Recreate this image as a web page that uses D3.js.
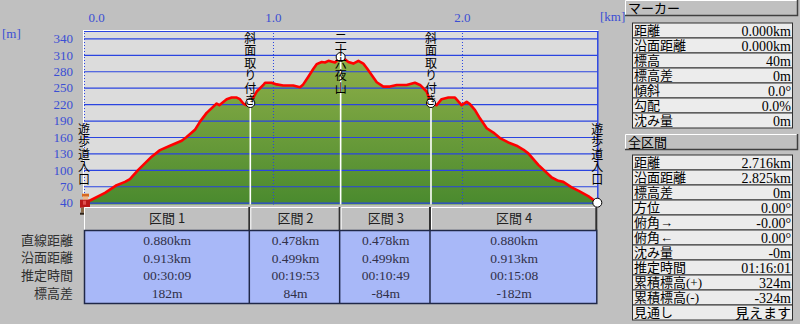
<!DOCTYPE html>
<html><head><meta charset="utf-8">
<script src="https://cdn.jsdelivr.net/npm/d3@7/dist/d3.min.js"></script>
<style>
html,body{margin:0;padding:0;background:#c0c0c0;}
svg{display:block;}
</style></head>
<body>
<svg id="chart" width="800" height="324"></svg>
<script>
// ---------- data ----------
const yTicks = [40, 70, 100, 130, 160, 190, 220, 250, 280, 310, 340];
const xTicks = [0, 1, 2];
const totalKm = 2.716;
const profileKm = [0, 0.032, 0.111, 0.173, 0.217, 0.243, 0.287, 0.358, 0.402, 0.455, 0.517, 0.543, 0.587, 0.614, 0.649, 0.702, 0.716, 0.737, 0.755, 0.781, 0.808, 0.825, 0.843, 0.861, 0.880,
  0.914, 0.949, 0.958, 0.993, 1.019, 1.054, 1.107, 1.143, 1.160, 1.187, 1.213, 1.231, 1.258, 1.275, 1.293, 1.328, 1.358,
  1.372, 1.399, 1.425, 1.452, 1.478, 1.496, 1.522, 1.549, 1.584, 1.619, 1.655, 1.707, 1.751, 1.778, 1.813, 1.836,
  1.866, 1.892, 1.928, 1.963, 1.998, 2.025, 2.042, 2.069, 2.095, 2.131, 2.166, 2.201, 2.245, 2.289, 2.324, 2.351, 2.404, 2.475, 2.510, 2.536, 2.580, 2.615, 2.668, 2.716];
const profileElev = [40, 44, 58, 72, 78, 83, 100, 124, 136, 144, 153, 160, 173, 188, 204, 221, 218, 224, 229, 232, 232, 229, 221, 218, 222,
  243, 255, 259, 259, 256, 254, 254, 251, 256, 270, 284, 293, 297, 296, 299, 296, 306,
  304, 297, 294, 299, 294, 286, 273, 260, 252, 252, 255, 255, 259, 255, 243, 222,
  218, 229, 232, 232, 218, 224, 220, 209, 194, 176, 168, 158, 150, 144, 137, 130, 109, 86, 80, 78, 68, 62, 52, 40];

const markerKm = [0, 0.880, 1.358, 1.836, 2.716];
const markerElev = [40, 222, 306, 222, 40];
const markerNames = ["遊歩道入口", "斜面取り付き", "二十六夜山", "斜面取り付き", "遊歩道入口"];

const sectionNames = ["区間 1", "区間 2", "区間 3", "区間 4"];
const sectionKm = [0.880, 0.478, 0.478, 0.880];
const rowLabels = ["直線距離", "沿面距離", "推定時間", "標高差"];
const straightDist = ["0.880km", "0.478km", "0.478km", "0.880km"];
const surfaceDist = ["0.913km", "0.499km", "0.499km", "0.913km"];
const estTime = ["00:30:09", "00:19:53", "00:10:49", "00:15:08"];
const elevDiff = ["182m", "84m", "-84m", "-182m"];

const markerPanelLabels = ["距離", "沿面距離", "標高", "標高差", "傾斜", "勾配", "沈み量"];
const markerPanelValues = ["0.000km", "0.000km", "40m", "0m", "0.0°", "0.0%", "0m"];
const totalPanelLabels = ["距離", "沿面距離", "標高差", "方位", "俯角→", "俯角←", "沈み量", "推定時間", "累積標高(+)", "累積標高(-)", "見通し"];
const totalPanelValues = ["2.716km", "2.825km", "0m", "0.00°", "-0.00°", "0.00°", "-0m", "01:16:01", "324m", "-324m", "見えます"];

// ---------- layout ----------
const svg = d3.select("#chart");
const FONT = "'Liberation Serif','Noto Sans CJK JP',serif";
const JFONT = "'Noto Sans CJK JP','Noto Sans',sans-serif";
const BLUE_TXT = "#3a4ed4";
const BLUE_LINE = "#2a44e0";
const L = 84, R = 597.3, T = 30, B = 204.5;

const x = d3.scaleLinear().domain([0, totalKm]).range([L, R]);
const y = d3.scaleLinear().domain([40, 340]).range([202.7, 38.4]);

svg.append("rect").attr("width", 800).attr("height", 324).attr("fill", "#c0c0c0");
svg.append("rect").attr("x", L).attr("y", T).attr("width", R - L + 1).attr("height", B - T).attr("fill", "#dcdcdc");

const defs = svg.append("defs");
const grad = defs.append("linearGradient").attr("id", "g").attr("gradientUnits", "userSpaceOnUse")
  .attr("x1", 0).attr("x2", 0).attr("y1", y(340)).attr("y2", B);
grad.append("stop").attr("offset", 0).attr("stop-color", "#98b44c");
grad.append("stop").attr("offset", 1).attr("stop-color", "#4a8a2e");

const prof = profileKm.map((k, i) => [k, profileElev[i]]);
svg.append("path").datum(prof)
  .attr("d", d3.area().x(d => x(d[0])).y0(B).y1(d => y(d[1])))
  .attr("fill", "url(#g)");

const ya = svg.append("g").attr("transform", `translate(${L},0)`)
  .call(d3.axisLeft(y).tickValues(yTicks).tickSize(-(R - L)).tickPadding(11).tickFormat(d3.format("d")));
ya.select(".domain").remove();
ya.selectAll("line").attr("stroke", BLUE_LINE).attr("stroke-width", 1.2);
ya.selectAll("text").attr("fill", BLUE_TXT).attr("font-family", FONT).attr("font-size", 13);

const xa = svg.append("g").attr("transform", `translate(0,${T})`)
  .call(d3.axisTop(x).tickValues(xTicks).tickSize(-(B - T)).tickPadding(8).tickFormat(d3.format(".1f")));
xa.select(".domain").remove();
xa.selectAll("line").attr("stroke", BLUE_LINE).attr("stroke-width", 1).attr("stroke-dasharray", "1,2");
xa.selectAll("text").attr("fill", BLUE_TXT).attr("font-family", FONT).attr("font-size", 13);
xa.selectAll(".tick").filter(d => d === 0).select("text").attr("text-anchor", "start").attr("x", 4);

svg.append("line").attr("x1", L - 1).attr("x2", R + 1).attr("y1", T + 0.5).attr("y2", T + 0.5).attr("stroke", "#fff");
svg.append("line").attr("x1", L - 0.5).attr("x2", L - 0.5).attr("y1", T).attr("y2", B).attr("stroke", "#fff");
svg.append("line").attr("x1", L).attr("x2", R + 1).attr("y1", T + 1.5).attr("y2", T + 1.5).attr("stroke", BLUE_LINE);
svg.append("line").attr("x1", R + 0.5).attr("x2", R + 0.5).attr("y1", T + 1).attr("y2", B).attr("stroke", BLUE_LINE).attr("stroke-width", 1.5);

svg.append("text").attr("x", 2).attr("y", 38).text("[m]").attr("fill", BLUE_TXT).attr("font-family", FONT).attr("font-size", 13);
svg.append("text").attr("x", 600).attr("y", 21).text("[km]").attr("fill", BLUE_TXT).attr("font-family", FONT).attr("font-size", 13);

const mk = markerKm.map((k, i) => ({ k, e: markerElev[i], name: markerNames[i], i }));
svg.selectAll(".secline").data(mk.filter(d => d.i > 0 && d.i < mk.length - 1)).join("line")
  .attr("x1", d => x(d.k)).attr("x2", d => x(d.k))
  .attr("y1", d => y(d.e)).attr("y2", B)
  .attr("stroke", "#fff").attr("stroke-width", 1.6);

svg.append("path").datum(prof)
  .attr("d", d3.line().x(d => x(d[0])).y(d => y(d[1])))
  .attr("fill", "none").attr("stroke", "#ff0000").attr("stroke-width", 2.6).attr("stroke-linejoin", "round");

svg.selectAll(".mc").data(mk.filter(d => d.i > 0)).join("circle")
  .attr("cx", d => x(d.k)).attr("cy", d => y(d.e)).attr("r", 4.5)
  .attr("fill", "#fff").attr("stroke", "#000").attr("stroke-width", 1);

// hiker icon at start
const h = svg.append("g").attr("transform", `translate(${x(0) + 1},${y(40)})`);
h.append("rect").attr("x", -3).attr("y", -9).attr("width", 7).attr("height", 3).attr("fill", "#d86820");
h.append("rect").attr("x", -2).attr("y", -6).attr("width", 5).attr("height", 3).attr("fill", "#f0b888");
h.append("rect").attr("x", -5).attr("y", -3).attr("width", 10).attr("height", 8).attr("fill", "#b81818");
h.append("rect").attr("x", -2).attr("y", -2).attr("width", 3).attr("height", 4).attr("fill", "#e05050");
h.append("rect").attr("x", -4).attr("y", 5).attr("width", 3).attr("height", 5).attr("fill", "#8a6a48");
h.append("rect").attr("x", 1).attr("y", 5).attr("width", 3).attr("height", 5).attr("fill", "#8a6a48");
h.append("rect").attr("x", -5).attr("y", 10).attr("width", 4).attr("height", 2).attr("fill", "#302418");
h.append("rect").attr("x", 1).attr("y", 10).attr("width", 4).attr("height", 2).attr("fill", "#302418");

// vertical labels
const STEP = 12.5;
svg.selectAll(".vlab").data(mk).join("text")
  .attr("class", "vlab")
  .attr("x", d => x(d.k))
  .attr("y", d => {
    const n = Array.from(d.name).length;
    const edge = d.i === 0 || d.i === mk.length - 1;
    return edge ? y(d.e) - 17 - n * STEP : 32;
  })
  .style("writing-mode", "vertical-rl")
  .attr("letter-spacing", 0.5)
  .attr("font-family", JFONT).attr("font-size", 12).attr("fill", "#000")
  .text(d => d.name);

// ---------- section table ----------
const bounds = [0];
sectionKm.forEach(v => bounds.push(+(bounds[bounds.length - 1] + v).toFixed(3)));
const secs = sectionNames.map((n, i) => ({ n, i, x0: x(bounds[i]), x1: x(bounds[i + 1]) }));
const HT = 207, HB = 230, DB = 303;

const hc = svg.selectAll(".hc").data(secs).join("g");
hc.append("rect").attr("x", d => d.x0).attr("y", HT).attr("width", d => d.x1 - d.x0).attr("height", HB - HT).attr("fill", "#c0c0c0");
hc.append("path").attr("d", d => `M${d.x0 + 0.5},${HB}V${HT + 0.5}H${d.x1 - 1}`).attr("stroke", "#fff").attr("fill", "none");
hc.append("path").attr("d", d => `M${d.x1 - 1},${HT}V${HB}`).attr("stroke", "#303030").attr("stroke-width", 2).attr("fill", "none");
hc.append("text").attr("x", d => (d.x0 + d.x1) / 2).attr("y", (HT + HB) / 2).attr("dy", "0.36em")
  .attr("text-anchor", "middle").attr("font-family", JFONT).attr("font-size", 13).attr("fill", "#202020").text(d => d.n);

svg.append("rect").attr("x", x(0) + 0.5).attr("y", HB + 0.5).attr("width", x(totalKm) - x(0) - 1).attr("height", DB - HB)
  .attr("fill", "#a8b8f8").attr("stroke", "#202848").attr("stroke-width", 1.5);
svg.selectAll(".vd").data(bounds.slice(1, -1)).join("line")
  .attr("x1", d => x(d) - 1).attr("x2", d => x(d) - 1).attr("y1", HB).attr("y2", DB)
  .attr("stroke", "#202848").attr("stroke-width", 1.5);

const rowsVals = [straightDist, surfaceDist, estTime, elevDiff];
const rowY = [240, 257.7, 275, 293.3];
rowsVals.forEach((vals, r) => {
  svg.append("g").selectAll("text").data(secs).join("text")
    .attr("x", d => (d.x0 + d.x1) / 2).attr("y", rowY[r]).attr("dy", "0.36em").attr("text-anchor", "middle")
    .attr("font-family", FONT).attr("font-size", 13.5).attr("fill", "#303048").text(d => vals[d.i]);
  svg.append("text").attr("x", 73).attr("y", rowY[r]).attr("dy", "0.36em").attr("text-anchor", "end")
    .attr("font-family", JFONT).attr("font-size", 13).attr("fill", "#303030").text(rowLabels[r]);
});

// ---------- right panels ----------
function header(yTop, label) {
  const g = svg.append("g");
  g.append("rect").attr("x", 625).attr("y", yTop).attr("width", 173).attr("height", 16).attr("fill", "#c0c0c0");
  g.append("path").attr("d", `M625.5,${yTop + 16}V${yTop + 0.5}H797`).attr("stroke", "#fff").attr("fill", "none");
  g.append("path").attr("d", `M625,${yTop + 15.5}H797.5V${yTop}`).attr("stroke", "#404040").attr("stroke-width", 1.5).attr("fill", "none");
  g.append("text").attr("x", 628).attr("y", yTop + 8.5).attr("dy", "0.36em").attr("font-family", FONT).attr("font-size", 13).attr("fill", "#000").text(label);
}
function panel(yTop, labels, values) {
  const g = svg.append("g");
  const rows = labels.map((l, i) => ({ l, v: values[i], i }));
  g.selectAll("rect").data(rows).join("rect")
    .attr("x", 632.5).attr("y", d => yTop + d.i * 15 + 0.5).attr("width", 160).attr("height", 15)
    .attr("fill", "#ececec").attr("stroke", "#303030").attr("stroke-width", 1);
  g.selectAll(".lb").data(rows).join("text")
    .attr("x", 634).attr("y", d => yTop + d.i * 15 + 8).attr("dy", "0.36em")
    .attr("font-family", FONT).attr("font-size", 13).attr("fill", "#000").text(d => d.l);
  g.selectAll(".vl").data(rows).join("text")
    .attr("x", 791).attr("y", d => yTop + d.i * 15 + 8).attr("dy", "0.36em").attr("text-anchor", "end")
    .attr("font-family", FONT).attr("font-size", 14).attr("fill", "#000").text(d => d.v);
}
header(0, "マーカー");
panel(22.5, markerPanelLabels, markerPanelValues);
header(134, "全区間");
panel(154.5, totalPanelLabels, totalPanelValues);
</script>
</body></html>
